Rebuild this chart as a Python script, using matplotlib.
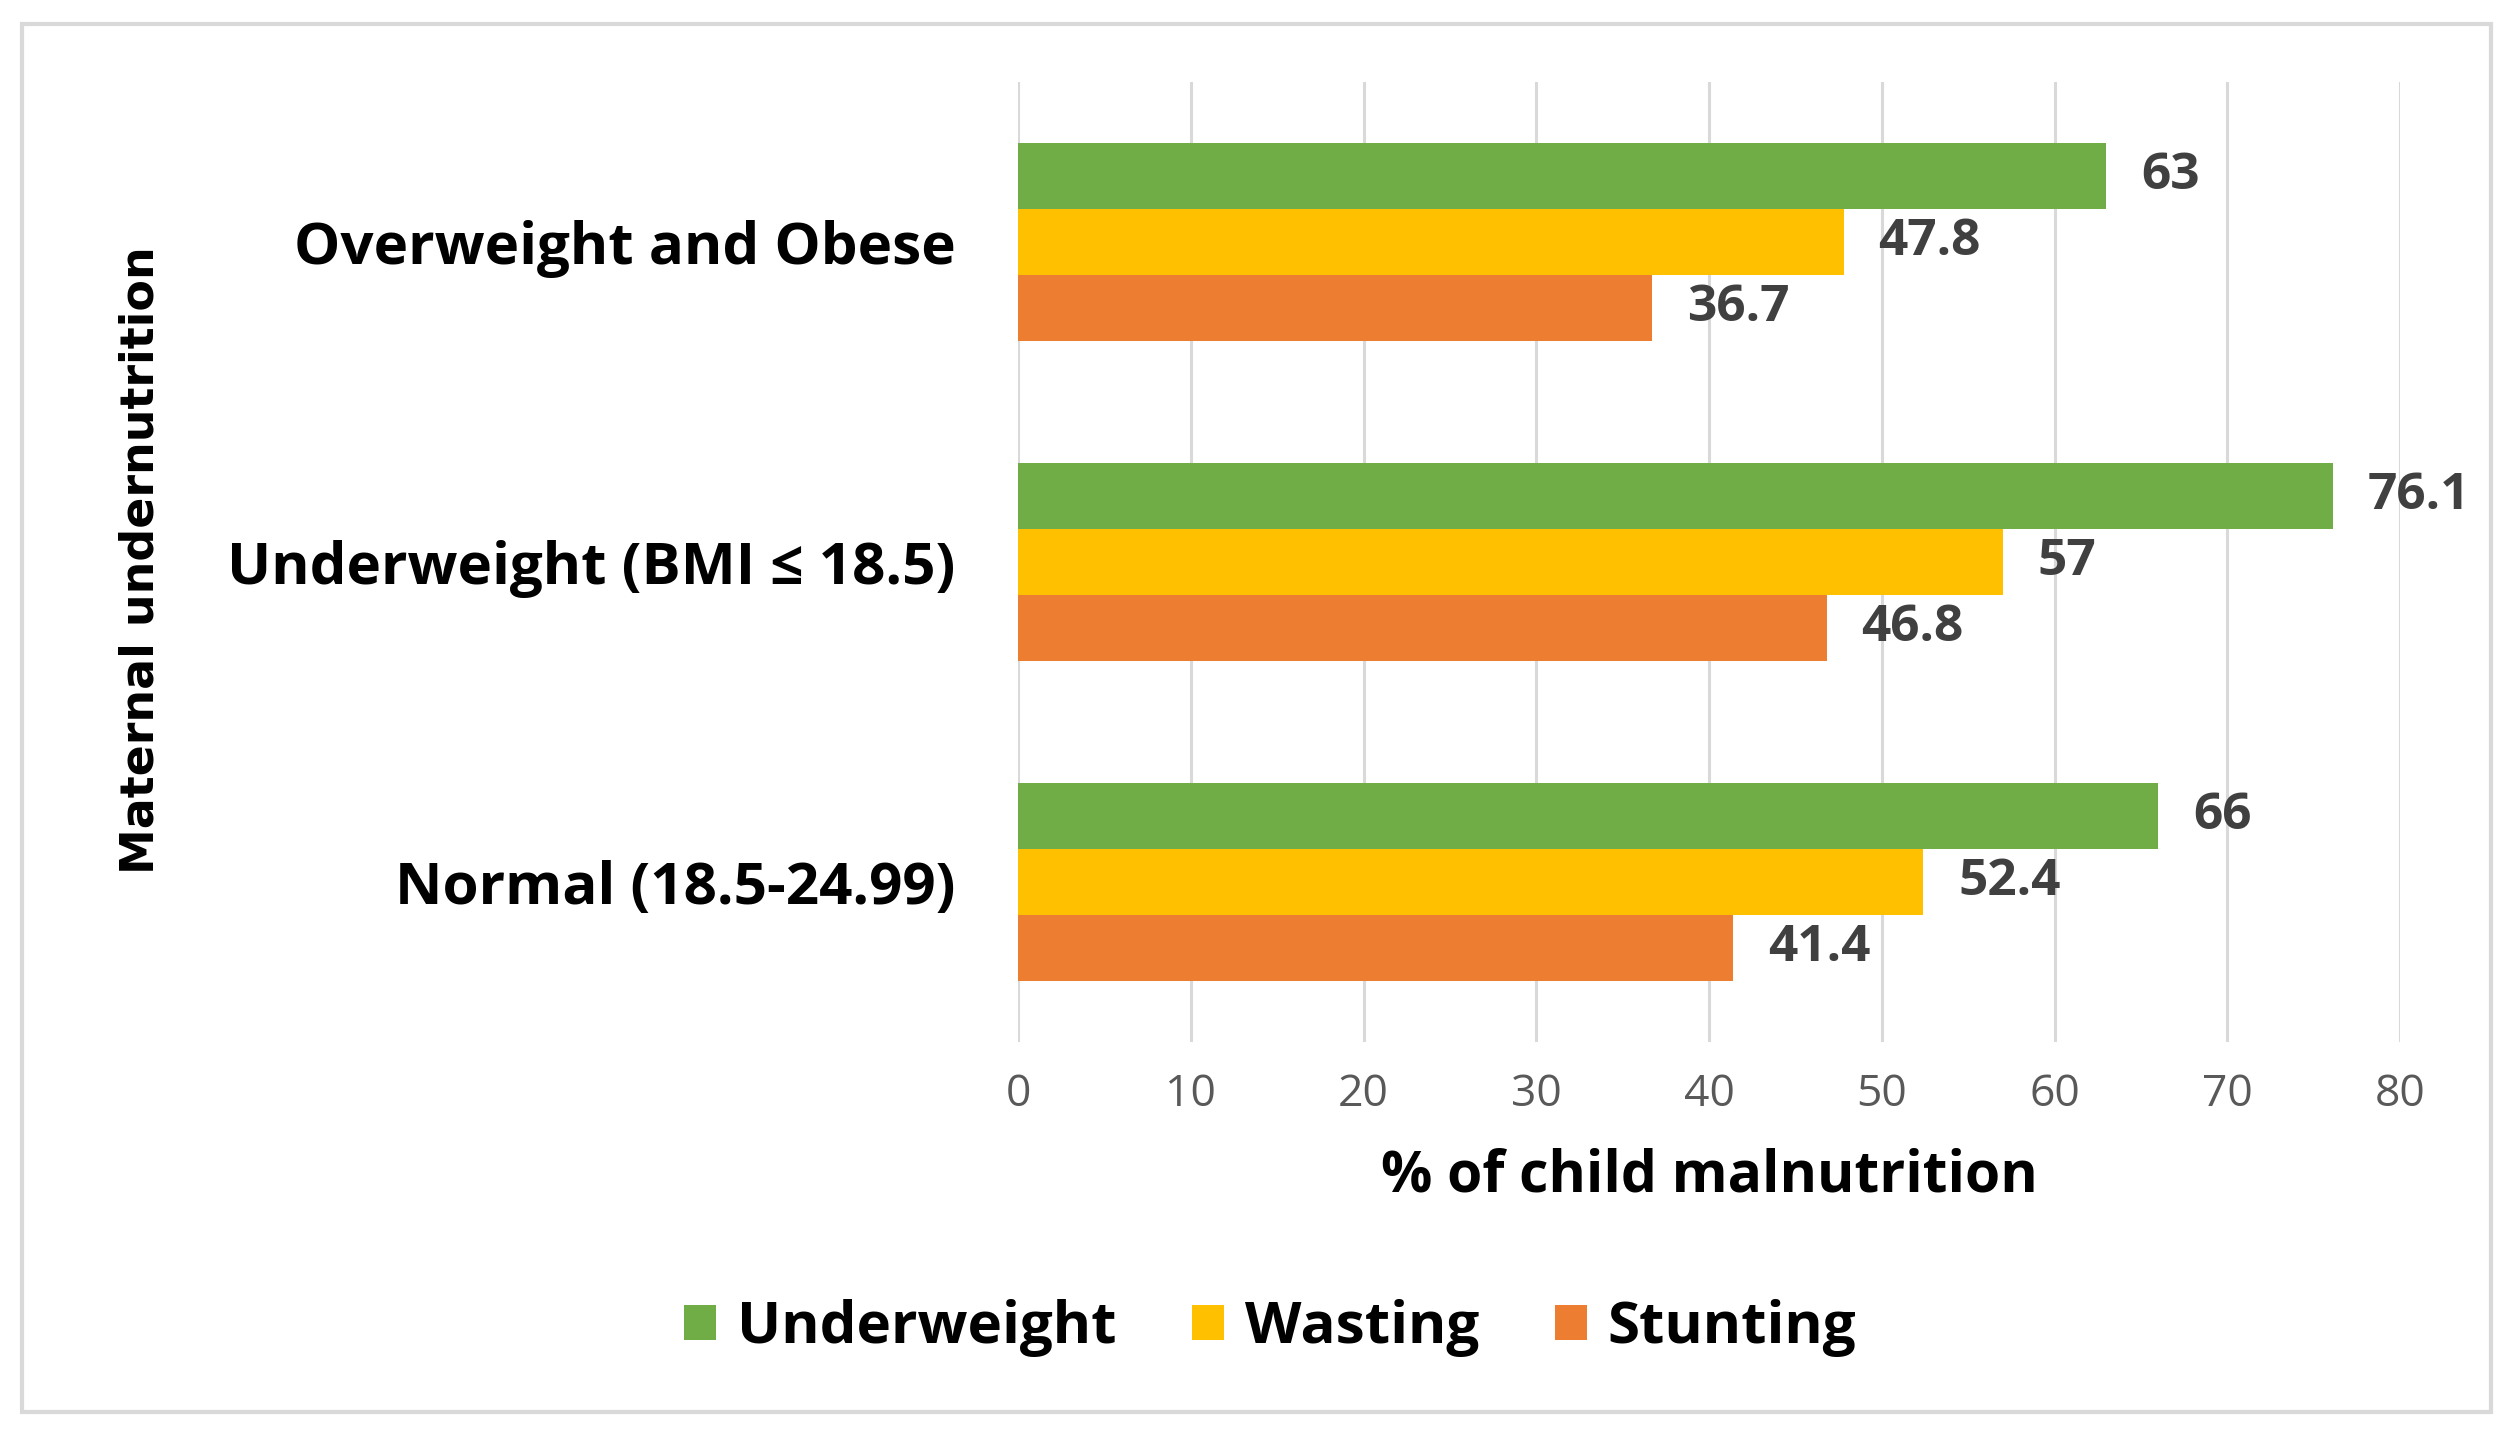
import numpy as np
import matplotlib
matplotlib.use("Agg")
import matplotlib.pyplot as plt
from matplotlib.patches import Rectangle

# data
categories = ['Normal (18.5-24.99)', 'Underweight (BMI \u2264 18.5)', 'Overweight and Obese']
underweight = [66, 76.1, 63]
wasting = [52.4, 57, 47.8]
stunting = [41.4, 46.8, 36.7]
series_names = ['Underweight', 'Wasting', 'Stunting']
xticks = [0, 10, 20, 30, 40, 50, 60, 70, 80]

green = '#70AD47'
yellow = '#FFC000'
orange = '#ED7D31'

fig = plt.figure(figsize=(25.15, 14.36), dpi=100)
ax = fig.add_axes([0.4048, 0.2744, 0.5495, 0.6685])

y = np.arange(len(categories))
h = 0.206
b1 = ax.barh(y + h, underweight, height=h, color=green, label=series_names[0], zorder=3)
b2 = ax.barh(y, wasting, height=h, color=yellow, label=series_names[1], zorder=3)
b3 = ax.barh(y - h, stunting, height=h, color=orange, label=series_names[2], zorder=3)

for bars, vals in [(b1, underweight), (b2, wasting), (b3, stunting)]:
    for bar, v in zip(bars, vals):
        ax.annotate(f'{v:g}', (v, bar.get_y() + bar.get_height() / 2),
                    xytext=(25, 0), textcoords='offset points', va='center', ha='left',
                    fontsize=37, fontweight='bold', color='#404040', family='Open Sans')

ax.set_xlim(0, 80)
ax.set_ylim(-0.5, 2.5)
ax.set_xticks(xticks)
ax.set_xticklabels([str(t) for t in xticks], fontsize=32, color='#595959', family='Open Sans')
ax.set_yticks(y)
ax.set_yticklabels(categories, fontsize=42, fontweight='bold', family='Open Sans')
ax.tick_params(axis='x', length=0, pad=22)
ax.tick_params(axis='y', length=0, pad=45)
ax.xaxis.grid(True, color='#d9d9d9', linewidth=2.2, zorder=0)
for s in ax.spines.values():
    s.set_visible(False)

ax.set_xlabel('% of child malnutrition', fontsize=41, fontweight='bold', family='Open Sans', labelpad=22)
fig.text(141 / 2515, 1 - 560 / 1436, 'Maternal undernutrition', rotation=90, fontsize=33,
         fontweight='bold', family='DejaVu Sans', ha='center', va='center')

fig.legend(handles=[b1, b2, b3], loc='center', bbox_to_anchor=(0.505, 1 - 1328 / 1436),
           ncol=3, frameon=False, prop={'family': 'Open Sans', 'weight': 'bold', 'size': 42},
           handlelength=0.55, handleheight=0.55, handletextpad=0.35, columnspacing=1.3)

fig.patches.append(Rectangle((22 / 2515, 1 - 1412 / 1436), (2491 - 22) / 2515, (1412 - 24) / 1436,
                             transform=fig.transFigure, fill=False, edgecolor='#d9d9d9', linewidth=3))

fig.savefig('out.png', dpi=100, facecolor='white')
